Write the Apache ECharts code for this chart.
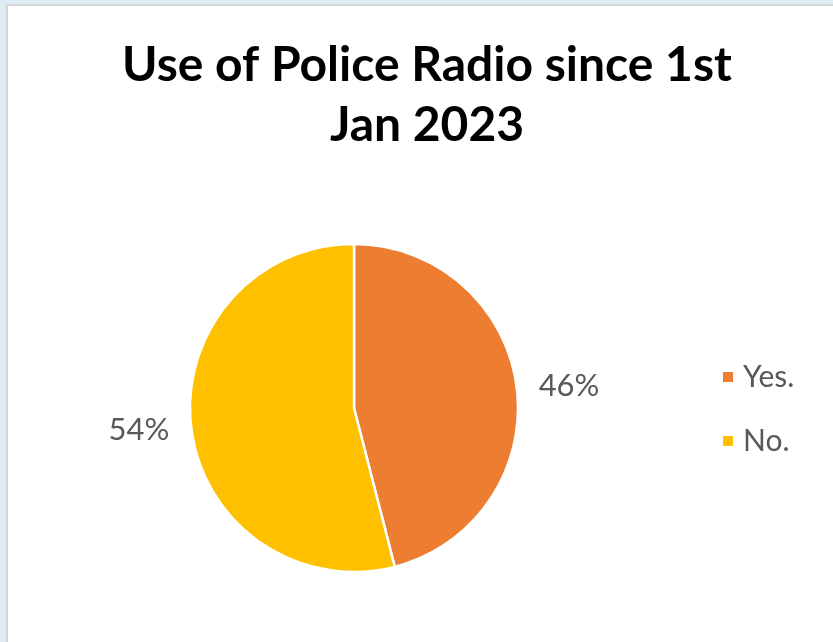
<!DOCTYPE html>
<html>
<head>
<meta charset="utf-8">
<script src="https://cdn.jsdelivr.net/npm/echarts@6/dist/echarts.min.js"></script>
<style>
  html, body { margin: 0; padding: 0; background: #DEEDF4; }
  #chart { width: 833px; height: 642px; }
</style>
</head>
<body>
<div id="chart"></div>
<script>
// Survey answers and their shares (percent)
const categories = ['Yes.', 'No.'];
const shares = [46, 54];
const colors = ['#ED7D31', '#FFC000'];
const titleText = 'Use of Police Radio since 1st\nJan 2023';

const chart = echarts.init(document.getElementById('chart'), null, { renderer: 'canvas' });

chart.setOption({
  backgroundColor: '#DEEDF4',
  animation: false,
  graphic: [{
    type: 'rect',
    shape: { x: 7, y: 5, width: 840, height: 650 },
    style: { fill: '#FFFFFF', stroke: '#D6D6D6', lineWidth: 2 },
    z: -10
  }],
  title: {
    text: titleText,
    left: 422,
    top: 31,
    textAlign: 'center',
    textStyle: {
      fontFamily: 'Lato',
      fontWeight: 'bold',
      fontSize: 48,
      lineHeight: 60,
      color: '#000000'
    }
  },
  legend: {
    orient: 'vertical',
    left: 716,
    top: 357,
    icon: 'rect',
    itemWidth: 12,
    itemHeight: 12,
    itemGap: 34,
    data: categories,
    textStyle: {
      fontFamily: 'Lato',
      fontSize: 30,
      lineHeight: 30,
      color: '#595959',
      padding: [0, 0, 0, 4]
    }
  },
  series: [{
    type: 'pie',
    center: [354, 408],
    radius: 164,
    startAngle: 90,
    clockwise: true,
    color: colors,
    itemStyle: { borderColor: '#FFFFFF', borderWidth: 2.5 },
    label: {
      show: true,
      position: 'outside',
      formatter: '{c}%',
      fontFamily: 'Lato',
      fontSize: 31,
      color: '#595959'
    },
    labelLine: { show: false, length: 10, length2: 7 },
    emphasis: { disabled: true },
    data: categories.map((name, i) => ({ name, value: shares[i] }))
  }]
});
</script>
</body>
</html>
